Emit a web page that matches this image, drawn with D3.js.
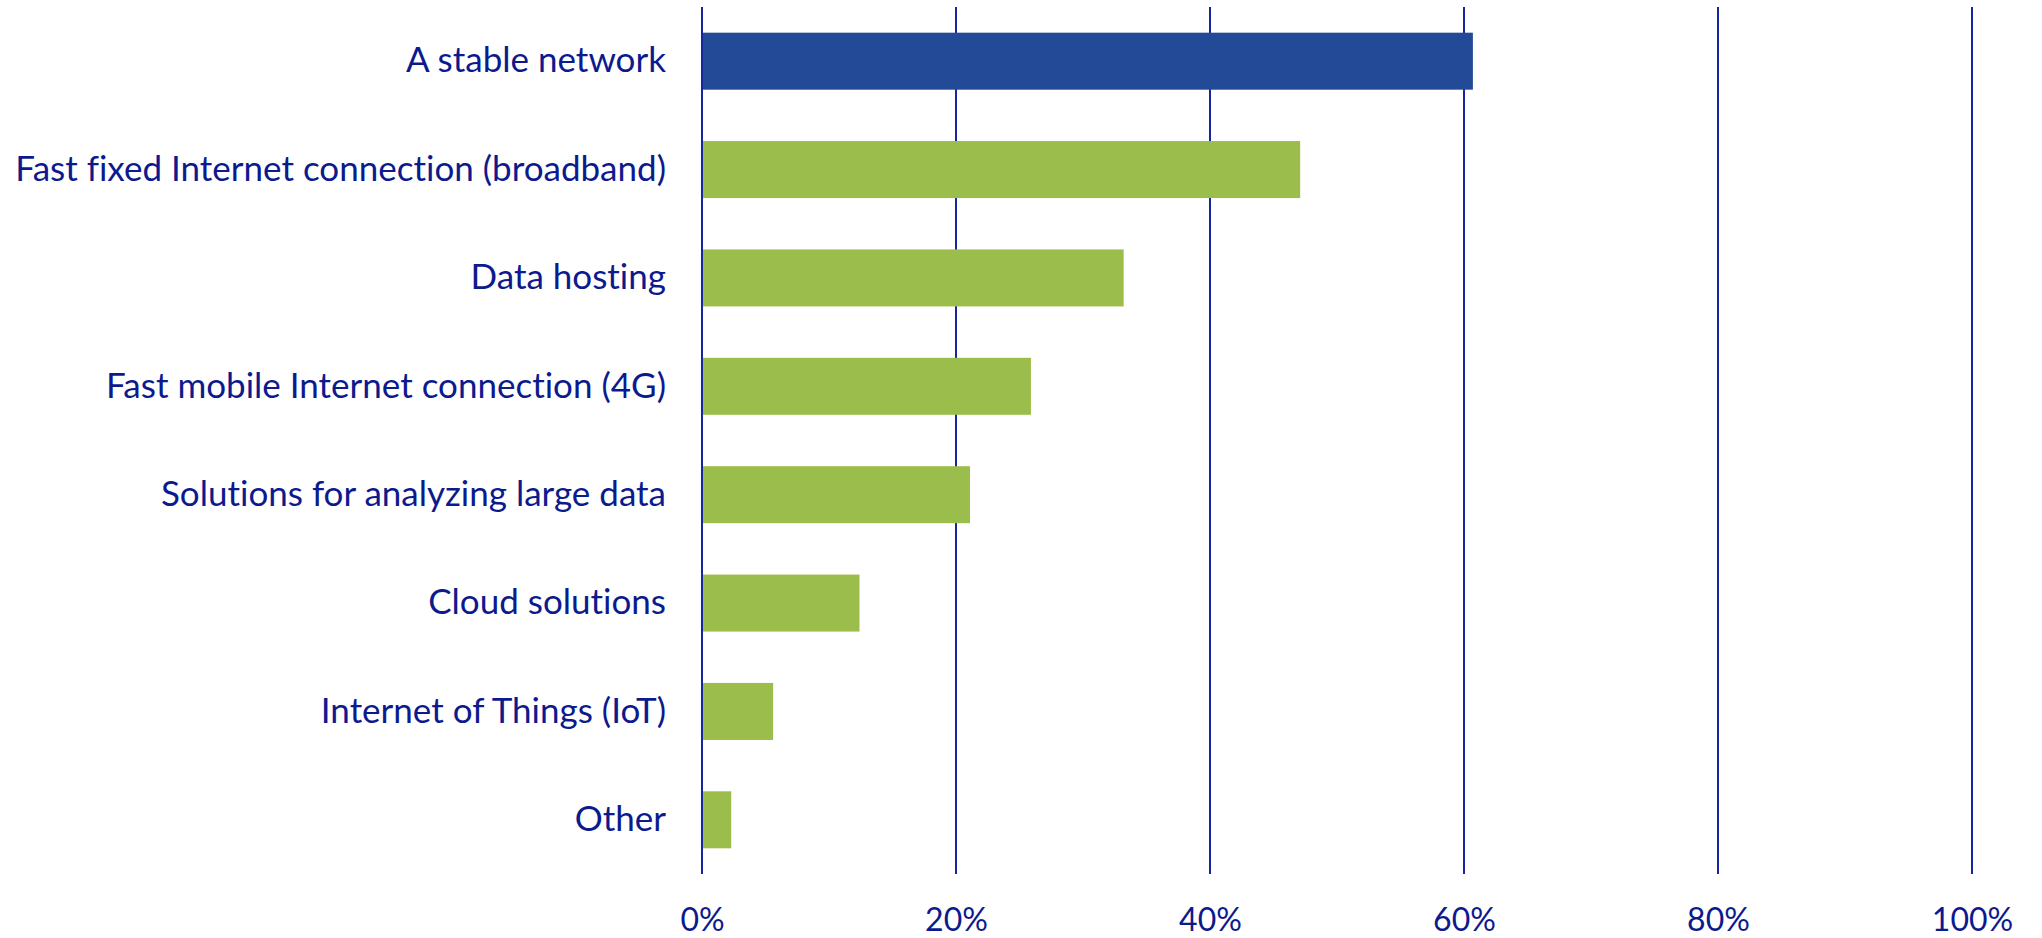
<!DOCTYPE html>
<html>
<head>
<meta charset="utf-8">
<script src="https://cdn.jsdelivr.net/npm/d3@7"></script>
<style>
  html, body { margin: 0; padding: 0; background: #fff; overflow: hidden; }
  svg { display: block; }
  text { font-family: Lato, "Open Sans", sans-serif; fill: #0c1a8e; font-variant-ligatures: none; }
</style>
</head>
<body>
<svg id="chart" width="2042" height="938"></svg>
<script>
// Share of respondents naming each digital infrastructure need
const categories = [
  "A stable network",
  "Fast fixed Internet connection (broadband)",
  "Data hosting",
  "Fast mobile Internet connection (4G)",
  "Solutions for analyzing large data",
  "Cloud solutions",
  "Internet of Things (IoT)",
  "Other"
];
const values = [0.607, 0.471, 0.332, 0.259, 0.211, 0.124, 0.056, 0.023];
const tickValues = [0, 0.2, 0.4, 0.6, 0.8, 1.0];

const svg = d3.select("#chart");
const margin = { top: 7, right: 70, bottom: 64, left: 702 };
const width = 2042 - margin.left - margin.right;
const height = 938 - margin.top - margin.bottom;

const g = svg.append("g").attr("transform", `translate(${margin.left},${margin.top})`);

const x = d3.scaleLinear().domain([0, 1]).range([0, width]);
const y = d3.scaleBand().domain(categories).range([0, height]).paddingInner(0.474).paddingOuter(0.237);

// vertical gridlines at every tick
g.append("g")
  .selectAll("line")
  .data(tickValues)
  .join("line")
  .attr("x1", d => x(d)).attr("x2", d => x(d))
  .attr("y1", 0).attr("y2", height)
  .attr("stroke", "#1426a0")
  .attr("stroke-width", 2);

// bars: first one highlighted
g.append("g")
  .selectAll("rect")
  .data(values)
  .join("rect")
  .attr("x", x(0) + 1)
  .attr("y", (d, i) => y(categories[i]))
  .attr("width", d => x(d) - x(0) - 1)
  .attr("height", y.bandwidth())
  .attr("fill", (d, i) => i === 0 ? "#234a97" : "#9bbd4b");

// category labels
const yAxis = d3.axisLeft(y).tickSize(0).tickPadding(36);
g.append("g")
  .call(yAxis)
  .call(s => s.select(".domain").remove())
  .selectAll("text")
  .attr("font-size", 35)
  .attr("fill", "#0c1a8e")
  .style("font-family", "Lato, 'Open Sans', sans-serif");

// percentage axis
const xAxis = d3.axisBottom(x).tickValues(tickValues).tickFormat(d3.format(".0%")).tickSize(0).tickPadding(34);
g.append("g")
  .attr("transform", `translate(0,${height})`)
  .call(xAxis)
  .call(s => s.select(".domain").remove())
  .selectAll("text")
  .attr("font-size", 32)
  .attr("fill", "#0c1a8e")
  .style("font-family", "Lato, 'Open Sans', sans-serif");
</script>
</body>
</html>
